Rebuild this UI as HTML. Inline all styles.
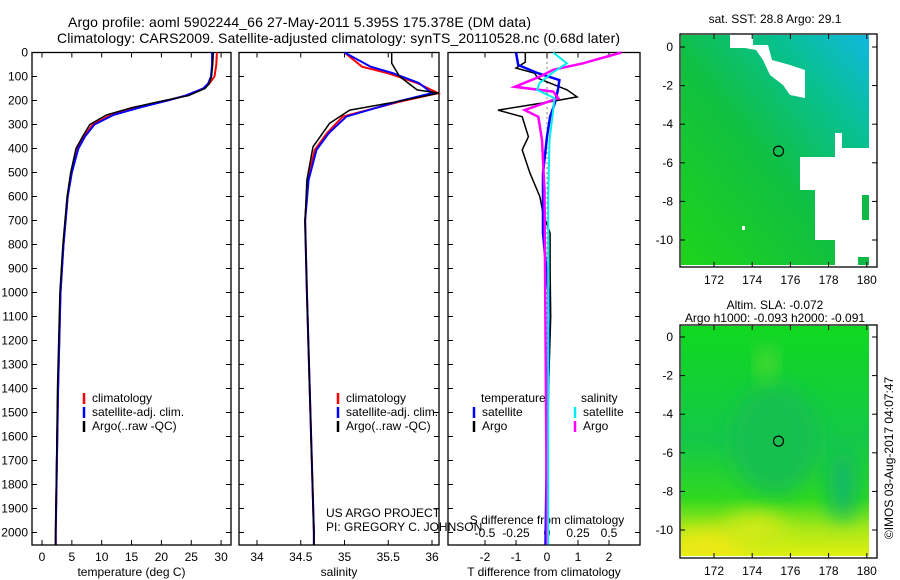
<!DOCTYPE html>
<html><head><meta charset="utf-8">
<style>
html,body{margin:0;padding:0;background:#fff;}
svg{display:block;font-family:"Liberation Sans",sans-serif;}
text{font-size:12px;fill:#000;}
</style></head>
<body>
<svg id="c" width="900" height="580" viewBox="0 0 900 580">
<defs>
<linearGradient id="sst" x1="0" y1="1" x2="1" y2="0">
<stop offset="0" stop-color="#1ed41a"/><stop offset="0.45" stop-color="#10c040"/><stop offset="0.75" stop-color="#08c090"/><stop offset="1" stop-color="#10b8e0"/>
</linearGradient>
<linearGradient id="sla" x1="0" y1="0" x2="0" y2="1">
<stop offset="0" stop-color="#10d820"/><stop offset="0.5" stop-color="#14c848"/><stop offset="0.75" stop-color="#30d820"/><stop offset="0.88" stop-color="#a8e818"/><stop offset="1" stop-color="#e0f010"/>
</linearGradient>
<filter id="blur" x="-50%" y="-50%" width="200%" height="200%"><feGaussianBlur stdDeviation="10"/></filter>
<clipPath id="slaclip"><rect x="681" y="326" width="188" height="229"/></clipPath>
</defs>
<text x="68" y="27" textLength="463" style="font-size:14px">Argo profile: aoml 5902244_66 27-May-2011 5.395S 175.378E (DM data)</text>
<text x="57" y="43" textLength="563" style="font-size:14px">Climatology: CARS2009. Satellite-adjusted climatology: synTS_20110528.nc (0.68d later)</text>
<g id="g"></g>
</svg>
<script>
// ---- data ----
const depthT=[0,50,100,130,150,180,200,230,260,300,350,400,500,600,800,1000,1400,2000,2050];
const tempClim=[29.3,29.2,28.9,28,27.0,24,21,16,11.5,8.5,7,6,5,4.3,3.6,3.1,2.7,2.3,2.3];
const tempSat=[28.5,28.5,28.3,27.8,27.0,24,21,16.3,12,8.8,7.2,6.1,5,4.3,3.6,3.1,2.7,2.3,2.3];
const tempArgo=[28.7,28.6,28.4,28.0,27.3,24.5,20.5,15,10.8,8,6.8,5.7,4.8,4.2,3.5,3.0,2.6,2.3,2.3];
const depthS=[0,59,86,127,169,205,267,336,406,531,700,1000,1500,2000,2050];
const salClim=[35.0,35.2,35.49,35.83,36.07,35.63,34.98,34.8,34.66,34.58,34.55,34.57,34.61,34.65,34.65];
const salSat=[35.0,35.3,35.55,35.85,36.0,35.6,35.02,34.82,34.68,34.59,34.55,34.57,34.61,34.65,34.65];
const depthSA=[0,45,100,156,169,205,240,295,393,531,700,1000,1500,2000,2050];
const salArgo=[35.54,35.54,35.63,35.83,36.08,35.6,35.06,34.83,34.64,34.57,34.55,34.57,34.61,34.65,34.65];
const depthTdSat=[0,52,86,115,156,211,268,351,503,753,1000,1300,1600,2050];
const tDiffSat=[-1.0,-0.93,-0.3,0.4,0.35,0.25,0.1,0.0,-0.13,-0.13,0.05,0.05,0.0,-0.05];
const depthTdArgo=[0,40,65,86,107,156,185,205,240,268,351,406,503,601,670,753,900,1100,1400,2050];
const tDiffArgo=[-0.7,-0.7,-1.0,-0.4,-0.3,0.65,0.97,0.1,-1.58,-0.8,-0.6,-0.8,-0.55,-0.23,-0.13,0.1,0.1,0.12,0.05,0.0];
const depthSdSat=[0,45,86,127,156,190,240,365,600,2050];
const sDiffSat=[0.05,0.16,0.04,-0.06,-0.08,0.06,0.05,0.02,0.01,0.01];
const depthSdArgo=[0,45,72,101,143,163,190,240,268,365,573,2050];
const sDiffArgo=[0.6,0.29,0.05,-0.06,-0.26,0.05,0.09,-0.18,-0.07,-0.04,-0.02,0.0];
const depthTicks=[0,100,200,300,400,500,600,700,800,900,1000,1100,1200,1300,1400,1500,1600,1700,1800,1900,2000];
const tempTicks=[0,5,10,15,20,25,30];
const salTicks=[34,34.5,35,35.5,36];
const tdTicks=[-2,-1,0,1,2];
const sdTicks=[-0.5,-0.25,0,0.25,0.5];
const sdTickLabels=["-0.5","-0.25","0","0.25","0.5"];
const lonTicks=[172,174,176,178,180];
const latTicks=[0,-2,-4,-6,-8,-10];

const NS='http://www.w3.org/2000/svg';
const G=document.getElementById('g');
function mk(tag,attrs,parent){const e=document.createElementNS(NS,tag);for(const k in attrs)e.setAttribute(k,attrs[k]);(parent||G).appendChild(e);return e;}
function txt(x,y,s,anchor,parent){const e=mk('text',{x:x,y:y,'text-anchor':anchor||'start'},parent);e.textContent=s;return e;}
const yD=d=>52.5+d*0.24;
const PT=52.5,PB=545;

function panel(name,x0,x1,xf,ticks,labels,title){
  const g=mk('g',{});
  
  
  const r=mk('rect',{x:x0,y:PT,width:x1-x0,height:PB-PT,fill:'none',stroke:'#000','stroke-width':1.3},g);
  
  
  ticks.forEach((t,i)=>{const x=xf(t);
    mk('line',{x1:x,x2:x,y1:PB,y2:PB-5,stroke:'#000'},g);
    mk('line',{x1:x,x2:x,y1:PT,y2:PT+5,stroke:'#000'},g);
    const l=txt(x,561,labels[i],'middle',g);
    
    });
  depthTicks.forEach(d=>{const y=yD(d);
    mk('line',{x1:x0,x2:x0+5,y1:y,y2:y,stroke:'#000'},g);
    mk('line',{x1:x1,x2:x1-5,y1:y,y2:y,stroke:'#000'},g);});
  const t=txt((x0+x1)/2,576,title,'middle',g);
  
  
  return g;
}
function line(g,xs,ds,xf,col,w,name){
  const pts=xs.map((v,i)=>xf(v).toFixed(1)+','+yD(ds[i]).toFixed(1)).join(' ');
  const p=mk('polyline',{points:pts,fill:'none',stroke:col,'stroke-width':w},g);
  
  
}
function legend(g,x,y,items){
  items.forEach((it,i)=>{const yy=y+i*14;
    mk('line',{x1:x,x2:x,y1:yy-9,y2:yy+2,stroke:it[1],'stroke-width':2.5},g);
    const t=txt(x+8,yy,it[0],'start',g);
    
    });
}
depthTicks.forEach(d=>{const t=txt(28,yD(d)+4,String(d),'end');
  
  });

// Panel 1 temperature
const xT=v=>42+v*5.97;
const g1=panel('temperature-panel',32,231,xT,tempTicks,tempTicks.map(String),'temperature (deg C)');
line(g1,tempClim,depthT,xT,'#f00',2,'temp-climatology-line');
line(g1,tempSat,depthT,xT,'#00f',2,'temp-satellite-line');
line(g1,tempArgo,depthT,xT,'#000',1.5,'temp-argo-line');
legend(g1,84,402,[['climatology','#f00'],['satellite-adj. clim.','#00f'],['Argo(..raw -QC)','#000']]);

// Panel 2 salinity
const xS=v=>257+(v-34)*87.5;
const g2=panel('salinity-panel',239,439,xS,salTicks,salTicks.map(String),'salinity');
line(g2,salClim,depthS,xS,'#f00',2,'sal-climatology-line');
line(g2,salSat,depthS,xS,'#00f',2,'sal-satellite-line');
line(g2,salArgo,depthSA,xS,'#000',1.5,'sal-argo-line');
legend(g2,338,402,[['climatology','#f00'],['satellite-adj. clim.','#00f'],['Argo(..raw -QC)','#000']]);
txt(326,517,'US ARGO PROJECT',null,g2);
txt(326,531,'PI: GREGORY C. JOHNSON',null,g2);

// Panel 3 differences
const xTd=v=>547+v*31;
const xSd=v=>547+v*124;
const g3=panel('difference-panel',448,640,xTd,tdTicks,tdTicks.map(String),'T difference from climatology');
sdTicks.forEach((t,i)=>{const l=txt(xSd(t),537,sdTickLabels[i],'middle',g3);
  
  });
const st=txt(547,524,'S difference from climatology','middle',g3);

mk('line',{x1:547,x2:547,y1:PT,y2:PB,stroke:'#000','stroke-dasharray':'1,4'},g3);
line(g3,tDiffArgo,depthTdArgo,xTd,'#000',1.5,'t-diff-argo-line');
line(g3,tDiffSat,depthTdSat,xTd,'#00f',2.5,'t-diff-satellite-line');
line(g3,sDiffArgo,depthSdArgo,xSd,'#f0f',2.5,'s-diff-argo-line');
line(g3,sDiffSat,depthSdSat,xSd,'#0ee',2,'s-diff-satellite-line');
txt(481,402,'temperature',null,g3);txt(581,402,'salinity',null,g3);
legend(g3,474,416,[['satellite','#00f'],['Argo','#000']]);
legend(g3,575,416,[['satellite','#0ee'],['Argo','#f0f']]);

// Maps
function map(name,y0,y1,lat0y,lat10y,fill,title1,title2){
  const g=mk('g',{});
  
  
  const xL=v=>714+(v-172)*19.1;
  const yL=v=>lat0y+(-v)*(lat10y-lat0y)/10;
  mk('rect',{x:681,y:y0+1,width:188,height:y1-y0-3,fill:fill},g);
  const extra=mk('g',{},g);
  mk('rect',{x:680,y:y0,width:197,height:y1-y0,fill:'none',stroke:'#000','stroke-width':1.3},g);
  lonTicks.forEach(l=>{const x=xL(l);mk('line',{x1:x,x2:x,y1:y1,y2:y1-5,stroke:'#000'},g);mk('line',{x1:x,x2:x,y1:y0,y2:y0+5,stroke:'#000'},g);
    const t=txt(x,y1+17,String(l),'middle',g);});
  latTicks.forEach(l=>{const y=yL(l);mk('line',{x1:680,x2:685,y1:y,y2:y,stroke:'#000'},g);mk('line',{x1:877,x2:872,y1:y,y2:y,stroke:'#000'},g);
    const t=txt(673,y+4,String(l),'end',g);});
  const c=mk('circle',{cx:xL(175.378),cy:yL(-5.395),r:5,fill:'none',stroke:'#000','stroke-width':1.2},g);
  
  
  if(title2){txt(775,y0-16,title1,'middle',g);txt(775,y0-3,title2,'middle',g);}
  else txt(775,y0-11,title1,'middle',g);
  return extra;
}
const m1=map('sst-map',34,267,47,240,'url(#sst)','sat. SST: 28.8 Argo: 29.1');
mk('polygon',{points:'730,35 753,35 753,45 768,45 772,60 790,65 805,70 805,98 790,95 783,85 770,75 763,60 756,50 745,48 730,48',fill:'#fff'},m1);
[[835,133,7,25],[842,148,27,10],[800,157,69,33],[815,190,54,50],[835,240,34,25],[742,226,3,4]].forEach(r=>{
  mk('rect',{x:r[0],y:r[1],width:r[2],height:r[3],fill:'#fff'},m1);});
[[862,195,7,25,'#10b848'],[858,257,11,8,'#10b848']].forEach(r=>{
  mk('rect',{x:r[0],y:r[1],width:r[2],height:r[3],fill:r[4]},m1);});
const m2=map('sla-map',325,558,337,530,'url(#sla)','Altim. SLA: -0.072','Argo h1000: -0.093 h2000: -0.091');
const bl=mk('g',{'clip-path':'url(#slaclip)'},m2);
mk('ellipse',{cx:843,cy:485,rx:14,ry:35,fill:'#10b868',filter:'url(#blur)'},bl);
mk('ellipse',{cx:775,cy:440,rx:45,ry:55,fill:'#18c050',filter:'url(#blur)'},bl);
mk('ellipse',{cx:767,cy:364,rx:8,ry:18,fill:'#60dc30',filter:'url(#blur)'},bl);
mk('ellipse',{cx:710,cy:548,rx:40,ry:16,fill:'#f0e818',filter:'url(#blur)'},bl);
mk('ellipse',{cx:755,cy:530,rx:30,ry:16,fill:'#d0ea18',filter:'url(#blur)'},bl);
const ts=txt(0,0,'\u00A9IMOS 03-Aug-2017 04:07:47','middle');
ts.setAttribute('transform','translate(893,458) rotate(-90)');


</script>
</body></html>
